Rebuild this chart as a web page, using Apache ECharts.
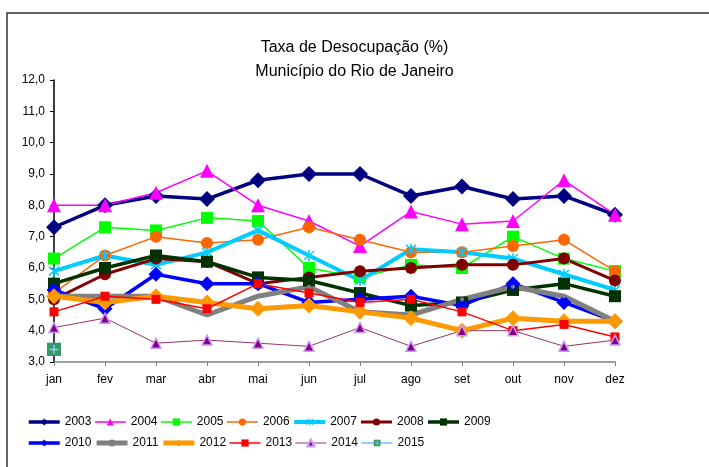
<!DOCTYPE html>
<html>
<head>
<meta charset="utf-8">
<script src="https://cdn.jsdelivr.net/npm/echarts@6/dist/echarts.min.js"></script>
<style>
  html, body { margin: 0; padding: 0; background: #fff; }
  #chart { width: 709px; height: 467px; }
</style>
</head>
<body>
<div id="chart"></div>
<script>
const months = ["jan", "fev", "mar", "abr", "mai", "jun", "jul", "ago", "set", "out", "nov", "dez"];

const y2003 = [7.3, 8.0, 8.3, 8.2, 8.8, 9.0, 9.0, 8.3, 8.6, 8.2, 8.3, 7.7];
const y2004 = [8.0, 8.0, 8.4, 9.1, 8.0, 7.5, 6.7, 7.8, 7.4, 7.5, 8.8, 7.7];
const y2005 = [6.3, 7.3, 7.2, 7.6, 7.5, 6.0, 5.7, 6.1, 6.0, 7.0, 6.3, 5.9];
const y2006 = [5.2, 6.4, 7.0, 6.8, 6.9, 7.3, 6.9, 6.5, 6.5, 6.7, 6.9, 5.9];
const y2007 = [5.9, 6.4, 6.1, 6.5, 7.2, 6.4, 5.6, 6.6, 6.5, 6.3, 5.8, 5.3];
const y2008 = [5.0, 5.8, 6.3, 6.2, 5.5, 5.7, 5.9, 6.0, 6.1, 6.1, 6.3, 5.6];
const y2009 = [5.5, 6.0, 6.4, 6.2, 5.7, 5.6, 5.2, 4.8, 4.9, 5.3, 5.5, 5.1];
const y2010 = [5.3, 4.7, 5.8, 5.5, 5.5, 4.9, 5.0, 5.1, 4.8, 5.5, 4.9, 4.3];
const y2011 = [5.1, 5.1, 5.1, 4.5, 5.1, 5.4, 4.6, 4.5, 5.0, 5.4, 5.1, 4.3];
const y2012 = [5.1, 4.9, 5.1, 4.9, 4.7, 4.8, 4.6, 4.4, 4.0, 4.4, 4.3, 4.3];
const y2013 = [4.6, 5.1, 5.0, 4.7, 5.5, 5.2, 4.9, 5.0, 4.6, 4.0, 4.2, 3.8];
const y2014 = [4.1, 4.4, 3.6, 3.7, 3.6, 3.5, 4.1, 3.5, 4.0, 4.0, 3.5, 3.7];
const y2015 = [3.4];

const yMin = 3;
const yMax = 12;

// asterisk marker used by 2007
const asterisk = "path://M4.4 0L5.6 0L5.6 10L4.4 10ZM0.6 1.6L1.4 0.6L9.4 8.4L8.6 9.4ZM8.6 0.6L9.4 1.6L1.4 9.4L0.6 8.4Z";
// green square with a light blue cross, used by 2015
const crossBox = "image://data:image/svg+xml;charset=utf-8," + encodeURIComponent(
  "<svg xmlns='http://www.w3.org/2000/svg' width='16' height='16'>" +
  "<rect width='16' height='16' fill='#339966'/>" +
  "<path d='M8 3v10M3 8h10' stroke='#99ccff' stroke-width='1.6'/></svg>"
);

const line = (name, data, color, width, symbol, size, extra) => Object.assign({
  name,
  type: "line",
  data,
  symbol,
  symbolSize: size,
  lineStyle: { color, width },
  itemStyle: { color },
  emphasis: { disabled: true },
}, extra || {});

const series = [
  line("2003", y2003, "#000080", 3.5, "diamond", 16),
  line("2004", y2004, "#ff00ff", 1.5, "triangle", 14),
  line("2005", y2005, "#00ff00", 1.5, "rect", 12),
  line("2006", y2006, "#ff6600", 1.5, "circle", 12),
  line("2007", y2007, "#00ccff", 4, asterisk, 11),
  line("2008", y2008, "#800000", 3, "circle", 12),
  line("2009", y2009, "#003300", 3.5, "rect", 12),
  line("2010", y2010, "#0000ff", 3.5, "diamond", 15),
  line("2011", y2011, "#808080", 5, "circle", 4),
  line("2012", y2012, "#ff9900", 5, "diamond", 16),
  line("2013", y2013, "#ff0000", 1.5, "rect", 9),
  line("2014", y2014, "#993366", 1, "triangle", 10, {
    itemStyle: { color: "#800080", borderColor: "#cc99ff", borderWidth: 1.5 },
  }),
  line("2015", y2015, "#99ccff", 2, crossBox, 14),
];

// legend entries carry the series line width so thick lines stay thick
const legendItems = (names) => names.map((n) => {
  const s = series.find((x) => x.name === n);
  return { name: n, lineStyle: { width: s.lineStyle.width } };
});

const legendBase = {
  left: 27,
  orient: "horizontal",
  itemWidth: 31,
  itemHeight: 9,
  itemGap: 2.6,
  padding: 0,
  textStyle: { fontFamily: "Liberation Sans", fontSize: 12, color: "#000" },
};

const chart = echarts.init(document.getElementById("chart"));
chart.setOption({
  animation: false,
  backgroundColor: "#fff",
  title: {
    text: "Taxa de Desocupação (%)\nMunicípio do Rio de Janeiro",
    left: "center",
    top: 36,
    padding: 0,
    textStyle: {
      fontFamily: "Liberation Sans",
      fontSize: 16,
      fontWeight: "normal",
      color: "#000",
      lineHeight: 24,
    },
  },
  graphic: [
    {
      type: "rect",
      shape: { x: 7, y: 13, width: 720, height: 480 },
      style: { fill: "none", stroke: "#333", lineWidth: 1.5 },
      silent: true,
    },
  ],
  legend: [
    Object.assign({}, legendBase, { top: 416, data: legendItems(["2003", "2004", "2005", "2006", "2007", "2008", "2009"]) }),
    Object.assign({}, legendBase, { top: 437, data: legendItems(["2010", "2011", "2012", "2013", "2014", "2015"]) }),
  ],
  grid: { left: 54, right: 94, top: 80, bottom: 105, containLabel: false },
  xAxis: {
    type: "category",
    data: months,
    boundaryGap: false,
    axisLine: { lineStyle: { color: "#808080", width: 1.5 } },
    axisTick: { show: true, length: 4, lineStyle: { color: "#808080" } },
    axisLabel: { margin: 12, fontFamily: "Liberation Sans", fontSize: 12, color: "#000" },
    splitLine: { show: false },
  },
  yAxis: {
    type: "value",
    min: yMin,
    max: yMax,
    interval: 1,
    axisLine: { show: true, lineStyle: { color: "#000", width: 1.5 } },
    axisTick: { show: true, length: 4, lineStyle: { color: "#000" } },
    axisLabel: {
      margin: 9,
      fontFamily: "Liberation Sans",
      fontSize: 12,
      color: "#000",
      formatter: (v) => v.toFixed(1).replace(".", ","),
    },
    splitLine: { show: false },
  },
  series,
});
</script>
</body>
</html>
